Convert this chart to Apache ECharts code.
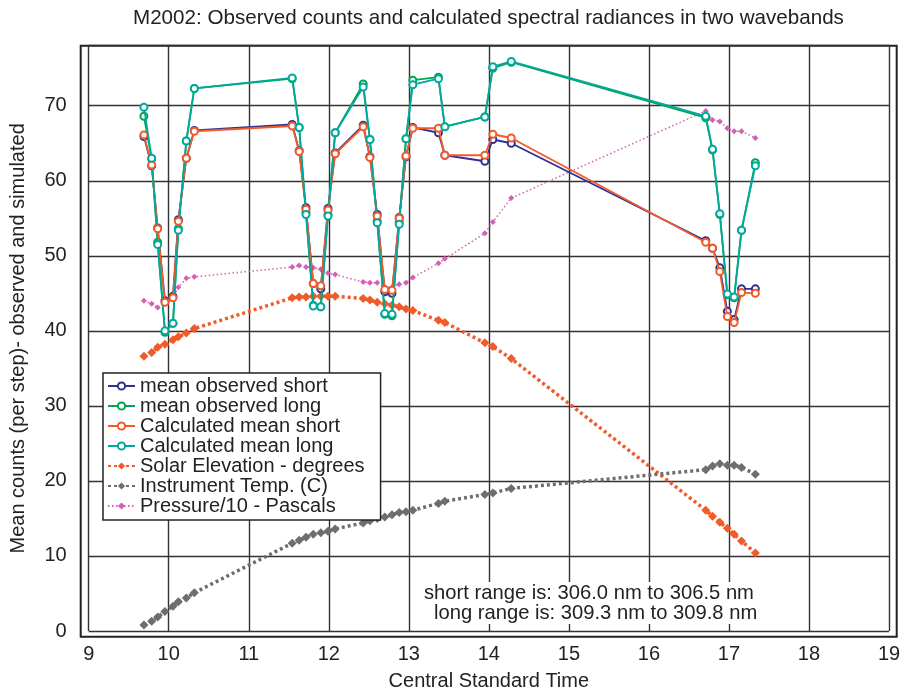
<!DOCTYPE html>
<html>
<head>
<meta charset="utf-8">
<script src="https://cdn.jsdelivr.net/npm/echarts@6/dist/echarts.min.js"></script>
<style>
  html, body { margin: 0; padding: 0; background: #fff; }
  #main { width: 918px; height: 696px; }
</style>
</head>
<body>
<div id="main"></div>
<script>
var myChart = echarts.init(document.getElementById('main'));

// Central Standard Time (hours) of each measurement
var times = [9.69, 9.787, 9.862, 9.953, 10.053, 10.12, 10.22, 10.32,
    11.543, 11.63, 11.715, 11.806, 11.90, 11.99, 12.08,
    12.43, 12.514, 12.605, 12.70, 12.79, 12.88, 12.965, 13.05,
    13.37, 13.45, 13.95, 14.05, 14.28,
    16.71, 16.795, 16.886, 16.98, 17.065, 17.157, 17.33];

var obsShort = [65.9, 62.0, 53.7, 44.0, 44.6, 54.8, 63.0, 66.7,
    67.5, 64.0, 56.4, 46.3, 45.6, 56.3, 63.7,
    67.4, 63.2, 55.5, 45.2, 45.0, 55.1, 63.2, 67.1,
    66.4, 63.4, 62.6, 65.5, 65.0,
    52.0, 51.0, 48.4, 42.6, 41.5, 45.6, 45.6];

var obsLong = [68.6, 62.9, 51.8, 39.8, 41.0, 53.6, 65.3, 72.3,
    73.6, 67.1, 55.8, 43.4, 43.2, 55.5, 66.4,
    72.9, 65.5, 54.6, 42.2, 42.0, 54.5, 65.6, 73.4,
    73.8, 67.2, 68.5, 75.0, 75.8,
    68.4, 64.1, 55.5, 44.8, 44.4, 53.4, 62.4];

var calcShort = [66.1, 62.1, 53.6, 43.8, 44.4, 54.6, 63.0, 66.6,
    67.3, 63.9, 56.2, 46.3, 46.0, 56.1, 63.6,
    67.2, 63.1, 55.3, 45.5, 45.4, 55.0, 63.3, 67.0,
    67.0, 63.4, 63.4, 66.2, 65.7,
    51.8, 51.0, 47.9, 41.9, 41.1, 45.1, 45.0];

var calcLong = [69.8, 63.0, 51.5, 40.0, 41.0, 53.4, 65.3, 72.3,
    73.7, 67.1, 55.5, 43.3, 43.2, 55.3, 66.4,
    72.5, 65.5, 54.4, 42.3, 42.2, 54.2, 65.6, 72.8,
    73.6, 67.2, 68.5, 75.2, 75.9,
    68.6, 64.2, 55.6, 44.9, 44.5, 53.4, 62.0];

var solarElev = [36.6, 37.1, 37.8, 38.2, 38.8, 39.2, 39.7, 40.3,
    44.4, 44.5, 44.5, 44.6, 44.6, 44.6, 44.6,
    44.3, 44.1, 43.8, 43.6, 43.4, 43.2, 42.9, 42.7,
    41.4, 41.1, 38.4, 37.9, 36.3,
    16.1, 15.3, 14.5, 13.7, 12.9, 12.0, 10.4];

var instTemp = [0.8, 1.3, 1.85, 2.6, 3.3, 3.9, 4.4, 5.1,
    11.7, 12.1, 12.5, 12.9, 13.1, 13.3, 13.6,
    14.4, 14.7, 15.0, 15.2, 15.5, 15.8, 15.9, 16.1,
    17.0, 17.3, 18.2, 18.4, 19.0,
    21.5, 22.0, 22.3, 22.1, 22.1, 21.8, 20.9];

var pressure10 = [44.0, 43.6, 43.1, 43.6, 44.4, 45.8, 47.0, 47.2,
    48.5, 48.7, 48.5, 48.4, 48.2, 47.7, 47.5,
    46.5, 46.4, 46.4, 45.8, 45.8, 46.2, 46.4, 47.1,
    49.0, 49.6, 53.0, 54.5, 57.7,
    69.3, 68.1, 67.9, 67.0, 66.6, 66.6, 65.7];

var seriesNames = ['mean observed short', 'mean observed long', 'Calculated mean short',
    'Calculated mean long', 'Solar Elevation - degrees', 'Instrument Temp. (C)', 'Pressure/10 - Pascals'];

var rangeNotes = ['short range is: 306.0 nm to 306.5 nm', 'long range is: 309.3 nm to 309.8 nm'];

function pairs(vals) {
    return times.map(function (t, i) { return [t, vals[i]]; });
}

var font = 'Liberation Sans, Arial, sans-serif';

function countLine(name, vals, color, z) {
    return {
        name: name,
        type: 'line',
        data: pairs(vals),
        z: z,
        symbol: 'emptyCircle',
        symbolSize: 7,
        lineStyle: { color: color, width: 1.8 },
        itemStyle: { color: color, borderWidth: 1.5 }
    };
}

function dotLine(name, vals, color, width, dash, size) {
    return {
        name: name,
        type: 'line',
        data: pairs(vals),
        z: 1,
        symbol: 'diamond',
        symbolSize: size,
        lineStyle: { color: color, width: width, type: dash },
        itemStyle: { color: color }
    };
}

var option = {
    backgroundColor: '#fff',
    animation: false,
    textStyle: { fontFamily: font },
    title: [
        {
            text: 'M2002: Observed counts and calculated spectral radiances in two wavebands',
            left: 133,
            top: 8,
            padding: 0,
            textStyle: { fontSize: 20.6, fontWeight: 'normal', color: '#222', fontFamily: font }
        },
        {
            text: rangeNotes[0],
            left: 421,
            top: 582,
            padding: [1, 3, 1, 3],
            backgroundColor: '#fff',
            textStyle: { fontSize: 20.2, fontWeight: 'normal', color: '#222', fontFamily: font }
        },
        {
            text: rangeNotes[1],
            left: 431,
            top: 602,
            padding: [1, 3, 1, 3],
            backgroundColor: '#fff',
            textStyle: { fontSize: 20.2, fontWeight: 'normal', color: '#222', fontFamily: font }
        }
    ],
    legend: {
        orient: 'vertical',
        left: 103,
        top: 373,
        padding: [3, 16, 4, 4],
        itemGap: 0,
        itemWidth: 27,
        itemHeight: 9,
        backgroundColor: '#fff',
        borderColor: '#222',
        borderWidth: 1.5,
        borderRadius: 0,
        data: seriesNames,
        textStyle: { fontSize: 20, color: '#222', fontFamily: font }
    },
    grid: [
        { left: 88.7, right: 29, top: 45.7, bottom: 59.3, show: false },
        { left: 80.7, right: 21.3, top: 45.7, bottom: 59.3, show: true,
          borderColor: '#222', borderWidth: 2, backgroundColor: 'transparent' }
    ],
    xAxis: [
        {
            type: 'value',
            gridIndex: 0,
            min: 9,
            max: 19,
            interval: 1,
            name: 'Central Standard Time',
            nameLocation: 'middle',
            nameGap: 40,
            nameTextStyle: { fontSize: 20, color: '#222', fontFamily: font },
            axisLine: { show: false },
            axisTick: { show: false },
            axisLabel: { fontSize: 20, color: '#222', margin: 13, fontFamily: font },
            splitLine: { show: true, lineStyle: { color: '#333', width: 1.4 } }
        },
        { type: 'value', gridIndex: 1, show: false, min: 0, max: 1 }
    ],
    yAxis: [
        {
            type: 'value',
            gridIndex: 0,
            min: 0,
            max: 78,
            interval: 10,
            name: 'Mean counts (per step)- observed and simulated',
            nameLocation: 'middle',
            nameGap: 60,
            nameTextStyle: { fontSize: 20, color: '#222', fontFamily: font },
            axisLine: { show: false },
            axisTick: { show: false },
            axisLabel: { fontSize: 20, color: '#222', margin: 22, showMaxLabel: false, fontFamily: font },
            splitLine: { show: true, lineStyle: { color: '#333', width: 1.4 } }
        },
        { type: 'value', gridIndex: 1, show: false, min: 0, max: 1 }
    ],
    series: [
        countLine(seriesNames[0], obsShort, '#2e3192', 3),
        countLine(seriesNames[1], obsLong, '#00a651', 3),
        countLine(seriesNames[2], calcShort, '#f15a29', 4),
        countLine(seriesNames[3], calcLong, '#00a99d', 4),
        dotLine(seriesNames[4], solarElev, '#f15a29', 3.5, [3, 3], 9),
        dotLine(seriesNames[5], instTemp, '#6d6e71', 3.5, [3, 3], 9),
        dotLine(seriesNames[6], pressure10, '#d45fb5', 1.5, [1.5, 2.5], 6)
    ]
};

myChart.setOption(option);
</script>
</body>
</html>
